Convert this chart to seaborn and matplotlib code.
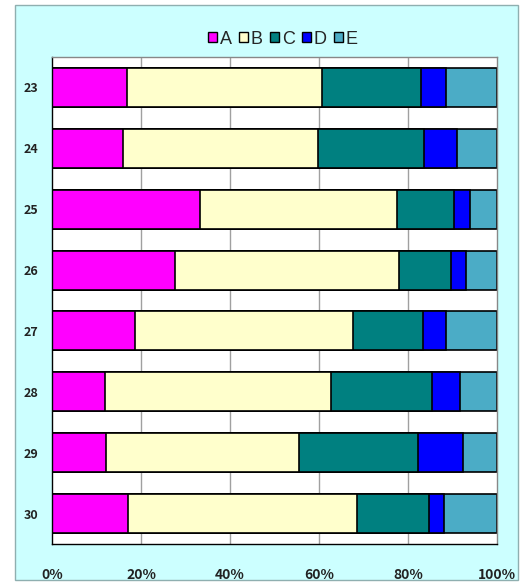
import numpy as np
import pandas as pd
import matplotlib
matplotlib.use("Agg")
import matplotlib.pyplot as plt
from matplotlib.patches import Rectangle
import seaborn as sns

years = ["23", "24", "25", "26", "27", "28", "29", "30"]
A = [16.9, 15.9, 33.3, 27.6, 18.7, 11.8, 12.2, 17.0]
B = [43.8, 43.9, 44.3, 50.4, 49.0, 50.9, 43.3, 51.5]
C = [22.2, 23.9, 12.7, 11.6, 15.7, 22.8, 26.7, 16.2]
D = [5.6, 7.4, 3.7, 3.4, 5.1, 6.2, 10.2, 3.5]
E = [11.5, 8.9, 6.0, 7.0, 11.5, 8.3, 7.6, 11.8]
series = ["A", "B", "C", "D", "E"]
colors = ["#FF00FF", "#FFFFCC", "#008080", "#0000FF", "#4BACC6"]

df = pd.DataFrame({"year": years, "A": A, "B": B, "C": C, "D": D, "E": E})
cum = df[series].cumsum(axis=1)
cum = cum.div(cum["E"], axis=0) * 100

sns.set_style("white")
plt.rcParams["font.family"] = ["Noto Sans CJK JP", "DejaVu Sans"]

fig = plt.figure(figsize=(5.26, 5.86), dpi=100)
fig.patch.set_facecolor("white")
fig.patches.append(Rectangle((15 / 526, 6 / 586), 503 / 526, 575 / 586,
                             transform=fig.transFigure, facecolor="#CCFFFF",
                             edgecolor="#8FAFB0", linewidth=1, zorder=-5))

ax = fig.add_axes([52 / 526, 42 / 586, 445 / 526, 487 / 586])
ax.set_zorder(2)
ax.set_facecolor("white")

# stacked bars: draw cumulative totals from the widest down
for s, c in zip(series[::-1], colors[::-1]):
    sns.barplot(x=cum[s], y=df["year"], orient="h", color=c, width=0.64,
                edgecolor="black", linewidth=1.2, saturation=1, ax=ax, zorder=2)

ax.set_xlim(0, 100)
ax.set_xticks([0, 20, 40, 60, 80, 100])
ax.set_xticklabels(["0%", "20%", "40%", "60%", "80%", "100%"],
                   fontsize=10, fontweight="bold", color="#222222")
ax.tick_params(axis="x", length=0, pad=17)
ax.tick_params(axis="y", length=0, pad=10, labelsize=9)
for t in ax.get_yticklabels():
    t.set_fontweight("bold")
    t.set_color("#222222")
for xv in [20, 40, 60, 80]:
    ax.axvline(xv, color="#A0A0A0", linewidth=1, zorder=1)
ax.set_xlabel("")
ax.set_ylabel("")
for sp in ["left", "bottom"]:
    ax.spines[sp].set_color("black")
    ax.spines[sp].set_linewidth(1)
for sp in ["top", "right"]:
    ax.spines[sp].set_color("#888888")
    ax.spines[sp].set_linewidth(1)

handles = [Rectangle((0, 0), 1, 1, facecolor=c, edgecolor="black", linewidth=1)
           for c in colors]
fig.legend(handles, series, loc="center", bbox_to_anchor=(283 / 526, 1 - 39 / 586),
           ncol=5, frameon=False, handlelength=0.5, handleheight=0.5,
           handletextpad=0.15, columnspacing=0.4, prop={"family": "Liberation Sans", "size": 13})

fig.savefig("out.png", dpi=100)
